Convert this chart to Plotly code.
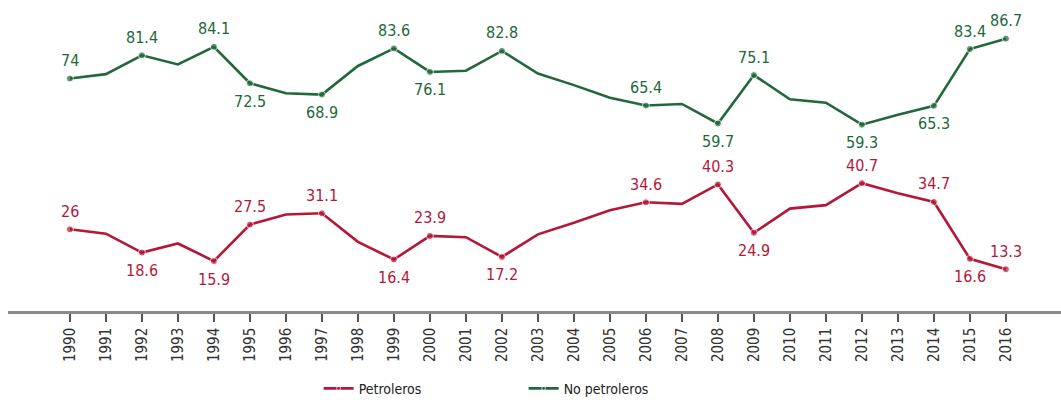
import plotly.graph_objects as go

years = list(range(1990, 2017))
no_petroleros = [74, 75.4, 81.4, 78.5, 84.1, 72.5, 69.3, 68.9, 78.0, 83.6, 76.1, 76.5, 82.8,
                 75.6, 71.9, 67.9, 65.4, 65.9, 59.7, 75.1, 67.4, 66.3, 59.3, 62.5, 65.3, 83.4, 86.7]
petroleros = [26, 24.6, 18.6, 21.5, 15.9, 27.5, 30.7, 31.1, 22.0, 16.4, 23.9, 23.5, 17.2,
              24.4, 28.1, 32.1, 34.6, 34.1, 40.3, 24.9, 32.6, 33.7, 40.7, 37.5, 34.7, 16.6, 13.3]
# which years carry a value label, and whether that label sits above (True) or below
green_labels = {1990: True, 1992: True, 1994: True, 1995: False, 1997: False, 1999: True,
                2000: False, 2002: True, 2006: True, 2008: False, 2009: True, 2012: False,
                2014: False, 2015: True, 2016: True}
red_labels = {1990: True, 1992: False, 1994: False, 1995: True, 1997: True, 1999: False,
              2000: True, 2002: False, 2006: True, 2008: True, 2009: False, 2012: True,
              2014: True, 2015: False, 2016: True}

GREEN = "#22683c"
RED = "#b4173a"
FONT = "DejaVu Sans Condensed"


def fmt(v):
    return str(int(v)) if float(v).is_integer() else f"{v:.1f}"


fig = go.Figure()
annotations = []
for values, labels, color, name in [(petroleros, red_labels, RED, "Petroleros"),
                                    (no_petroleros, green_labels, GREEN, "No petroleros")]:
    sizes = [7 if y in labels else 0 for y in years]
    fig.add_trace(go.Scatter(
        x=years, y=values, name=name, mode="lines+markers",
        line=dict(color=color, width=2.6),
        marker=dict(color=color, size=sizes),
        cliponaxis=False,
    ))
    for y, v in zip(years, values):
        if y in labels:
            annotations.append(dict(
                x=y, y=v, xref="x", yref="y", text=fmt(v), showarrow=False,
                yshift=18 if labels[y] else -18,
                font=dict(family=FONT, size=16, color=color),
            ))

fig.update_layout(
    width=1061, height=411,
    margin=dict(l=8, r=0, t=0, b=100),
    paper_bgcolor="white", plot_bgcolor="white",
    font=dict(family=FONT, size=14, color="#333333"),
    showlegend=True,
    annotations=annotations,
    legend=dict(orientation="h", x=0.295, xanchor="left", y=-0.25, yanchor="middle",
                font=dict(family=FONT, size=14, color="#222222"),
                entrywidth=160, entrywidthmode="pixels"),
    xaxis=dict(
        range=[1988.28, 2017.53], tickmode="array", tickvals=years,
        ticktext=[str(y) for y in years], tickangle=-90,
        showgrid=False, zeroline=False,
        showline=True, linecolor="#8a8a8a", linewidth=2.5,
        ticks="outside", ticklen=8, tickcolor="#555555", tickwidth=1.5,
        tickfont=dict(family=FONT, size=15, color="#333333"),
    ),
    yaxis=dict(range=[0, 99], visible=False, showgrid=False, zeroline=False),
)

fig.write_html("out.html", config={"displayModeBar": False},
               post_script="document.body.style.margin='0px';")
